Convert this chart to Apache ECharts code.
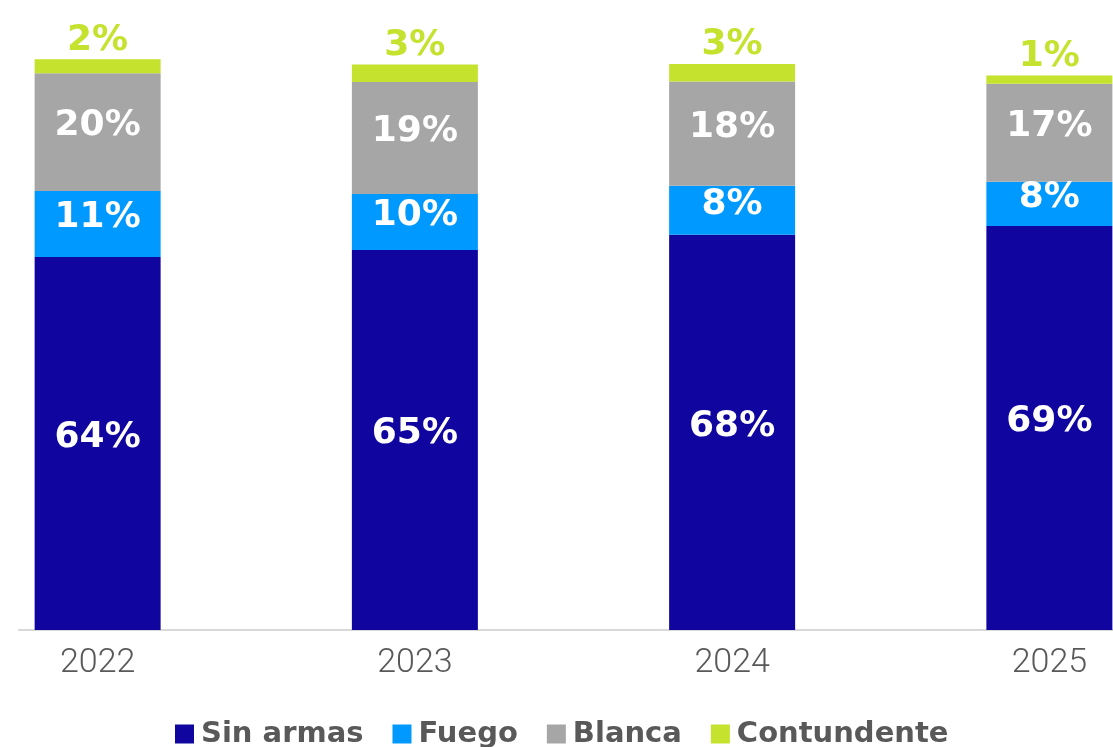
<!DOCTYPE html>
<html>
<head>
<meta charset="utf-8">
<script src="https://cdn.jsdelivr.net/npm/echarts@6/dist/echarts.min.js"></script>
<style>
  html, body { margin: 0; padding: 0; background: #fff; overflow: hidden; }
  /* the chart is wider than the window: each category is 317px, so the
     first and last bars sit right at the window edges */
  #chart { position: absolute; left: -61px; top: 0; width: 1269px; height: 747px; }
</style>
</head>
<body>
<div id="chart"></div>
<script>
var years = ["2022", "2023", "2024", "2025"];
var sinArmas = [64.0, 65.2, 67.8, 69.3];
var fuego = [11.3, 9.6, 8.4, 7.6];
var blanca = [20.2, 19.2, 17.9, 16.8];
var contundente = [2.4, 3.0, 3.0, 1.4];

var shift = 61; // how far the chart div sits left of the window
var labelFont = "DejaVu Sans";
var pct = function (p) { return Math.round(p.value) + "%"; };

var insideLabel = {
  show: true,
  position: "inside",
  color: "#fff",
  fontFamily: labelFont,
  fontWeight: "bold",
  fontSize: 36,
  offset: [0, -6],
  formatter: pct,
};

var myChart = echarts.init(document.getElementById("chart"));
var option = {
  animation: false,
  backgroundColor: "#fff",
  grid: [
    { left: 0, right: 0, top: 47, bottom: 117 },
    // only used for the baseline, which starts at x=19 in the window
    { left: 19 + shift, right: 0, top: 47, bottom: 117 },
  ],
  legend: {
    left: 170 + shift,
    top: 714,
    itemWidth: 19,
    itemHeight: 19,
    itemGap: 29,
    icon: "rect",
    textStyle: {
      color: "#595959",
      fontFamily: labelFont,
      fontWeight: "bold",
      fontSize: 29,
      lineHeight: 30,
      padding: [0, 0, 0, 2],
    },
    data: ["Sin armas", "Fuego", "Blanca", "Contundente"],
  },
  xAxis: [
    {
      type: "category",
      gridIndex: 0,
      data: years,
      axisLine: { show: false },
      axisTick: { show: false },
      axisLabel: {
        color: "#595959",
        fontFamily: "Roboto",
        fontWeight: 300,
        fontSize: 34,
        margin: 16,
      },
    },
    {
      type: "value",
      gridIndex: 1,
      min: 0,
      max: 1,
      axisLine: { show: true, lineStyle: { color: "#d9d9d9", width: 2 } },
      axisTick: { show: false },
      axisLabel: { show: false },
      splitLine: { show: false },
    },
  ],
  yAxis: [
    { type: "value", gridIndex: 0, min: 0, max: 100, show: false },
    { type: "value", gridIndex: 1, min: 0, max: 100, show: false },
  ],
  series: [
    {
      name: "Sin armas",
      type: "bar",
      stack: "total",
      barWidth: 126,
      data: sinArmas,
      itemStyle: { color: "#10069f" },
      label: insideLabel,
    },
    {
      name: "Fuego",
      type: "bar",
      stack: "total",
      barWidth: 126,
      data: fuego,
      itemStyle: { color: "#0099ff" },
      label: insideLabel,
    },
    {
      name: "Blanca",
      type: "bar",
      stack: "total",
      barWidth: 126,
      data: blanca,
      itemStyle: { color: "#a6a6a6" },
      label: insideLabel,
    },
    {
      name: "Contundente",
      type: "bar",
      stack: "total",
      barWidth: 126,
      data: contundente,
      itemStyle: { color: "#c4e22e" },
      label: {
        show: true,
        position: "top",
        distance: 1,
        color: "#c4e22e",
        fontFamily: labelFont,
        fontWeight: "bold",
        fontSize: 36,
        formatter: pct,
      },
    },
  ],
};
myChart.setOption(option);
</script>
</body>
</html>
